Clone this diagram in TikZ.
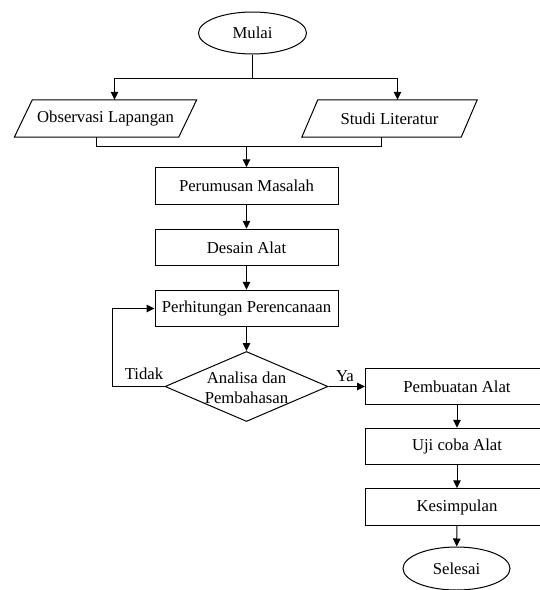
\documentclass[tikz,border=0pt]{standalone}
\usepackage{fontspec}
\setmainfont{Liberation Serif}
\usetikzlibrary{shapes.geometric,arrows.meta}
\begin{document}
\begin{tikzpicture}[x=1pt,y=-1pt,
  every node/.style={font=\fontsize{16.7}{20.5}\selectfont},
  line/.style={draw=black,line width=1pt},
  arr/.style={line,-{Triangle[length=8pt,width=7.5pt]}},
  procbox/.style={draw,line width=1pt,rectangle,minimum width=183pt,minimum height=36.5pt,inner sep=0pt,fill=white},
  term/.style={draw,line width=1pt,ellipse,minimum width=108pt,minimum height=42pt,inner sep=0pt},
  iobox/.style={rectangle,minimum height=37pt,inner sep=0pt},
  decbox/.style={draw,line width=1pt,diamond,minimum width=163pt,minimum height=70pt,inner sep=0pt},
  lbl/.style={inner sep=0pt}
]
\useasboundingbox (0,0) rectangle (540,590);
% nodes
\node[term] (mulai) at (252.5,33) {Mulai};
\node[iobox,minimum width=164pt] (obs) at (105.5,118.5) {Observasi Lapangan};
\node[iobox,minimum width=159pt] (studi) at (389.5,118.5) {Studi Literatur};
\draw[line] ([xshift=-9pt]obs.south west) -- ([xshift=-9pt]obs.south east)
  -- ([xshift=9pt]obs.north east) -- ([xshift=9pt]obs.north west) -- cycle;
\draw[line] ([xshift=-8pt]studi.south west) -- ([xshift=-8pt]studi.south east)
  -- ([xshift=8pt]studi.north east) -- ([xshift=8pt]studi.north west) -- cycle;
\node[procbox] (rumus) at (246.5,186) {Perumusan Masalah};
\node[procbox] (desain) at (246.5,247.5) {Desain Alat};
\node[procbox] (hitung) at (246.5,308.5) {Perhitungan Perencanaan};
\node[decbox] (analisa) at (246.5,386.5) {};
\node[lbl,align=center] (analisatext) at (246.5,388) {Analisa dan\\Pembahasan};
\node[procbox] (pemb) at (457,386.5) {Pembuatan Alat};
\node[procbox] (uji) at (457,446.5) {Uji coba Alat};
\node[procbox] (kes) at (457,507) {Kesimpulan};
\node[term,minimum width=107pt,minimum height=43pt] (selesai) at (456.5,568.5) {Selesai};
\node[lbl] (tidak) at (144,374) {Tidak};
\node[lbl] (ya) at (345,376.5) {Ya};
% helper coordinates
\coordinate (split) at (252.5,78);
\coordinate (merge) at (246.5,146);
\coordinate (loop) at (112,386.5);
% connectors
\draw[line] (mulai.south) -- (split);
\draw[arr] (split) -| ([xshift=9pt]obs.north);
\draw[arr] (split) -| ([xshift=8pt]studi.north);
\draw[line] ([xshift=-9pt]obs.south) |- (merge);
\draw[line] ([xshift=-8pt]studi.south) |- (merge);
\draw[arr] (merge) -- (rumus);
\draw[arr] (rumus) -- (desain);
\draw[arr] (desain) -- (hitung);
\draw[arr] (hitung) -- (analisa);
\draw[arr] (analisa.west) -- (loop) |- (hitung.west);
\draw[arr] (analisa.east) -- (pemb.west);
\draw[arr] (pemb) -- (uji);
\draw[arr] (uji) -- (kes);
\draw[arr] (kes) -- (selesai);
\end{tikzpicture}
\end{document}
